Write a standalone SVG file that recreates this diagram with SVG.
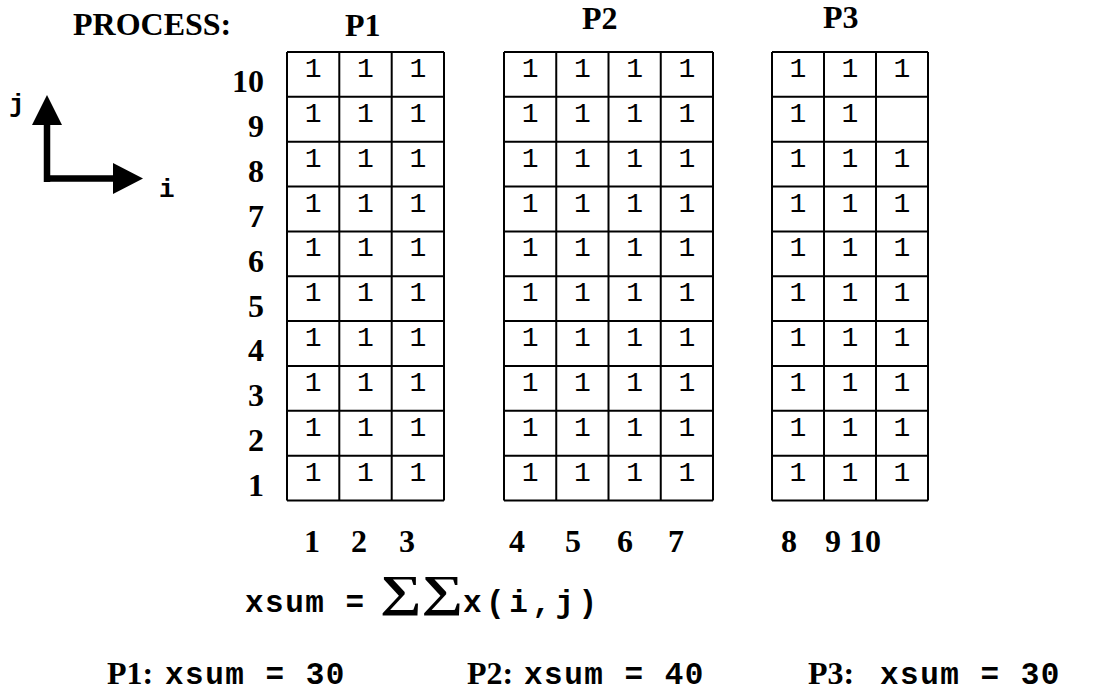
<svg xmlns="http://www.w3.org/2000/svg" width="1110" height="698" viewBox="0 0 1110 698">
<style>
.t{font-family:"Liberation Serif","Times New Roman",serif;font-weight:bold;font-size:32px;fill:#000}
.m{font-family:"Liberation Mono","Courier New",monospace;font-weight:bold;font-size:31px;fill:#000;letter-spacing:1.5px}
.c{font-family:"Liberation Mono","Courier New",monospace;font-size:28px;fill:#000;text-anchor:middle}
.g{fill:none;stroke:#000;stroke-width:2}
.rl{text-anchor:end}
.cl{text-anchor:middle}
</style>
<rect width="1110" height="698" fill="#fff"/>
<text class="t" x="73" y="35">PROCESS:</text>
<g id="axes">
<path d="M47,182 V122 M44,178.5 H116" stroke="#000" stroke-width="6.5" fill="none"/>
<polygon points="47,95 32,125 62,125" fill="#000"/>
<polygon points="143,178.5 113,163 113,194" fill="#000"/>
<text class="m" x="9" y="112" style="font-size:26px;letter-spacing:0">j</text>
<text class="m" x="159" y="197" style="font-size:26px;letter-spacing:0">i</text>
</g>
<g id="rowlabels">
<text class="t rl" x="264" y="92.3">10</text>
<text class="t rl" x="264" y="137.2">9</text>
<text class="t rl" x="264" y="182">8</text>
<text class="t rl" x="264" y="226.9">7</text>
<text class="t rl" x="264" y="271.7">6</text>
<text class="t rl" x="264" y="316.6">5</text>
<text class="t rl" x="264" y="361.4">4</text>
<text class="t rl" x="264" y="406.3">3</text>
<text class="t rl" x="264" y="451.1">2</text>
<text class="t rl" x="264" y="496">1</text>
</g>
<g id="P1">
<text class="t" x="345" y="36">P1</text>
<path class="g" d="M287,52H444M287,96.85H444M287,141.7H444M287,186.55H444M287,231.4H444M287,276.25H444M287,321.1H444M287,365.95H444M287,410.8H444M287,455.65H444M287,500.5H444M287,52V500.5M339.3,52V500.5M391.7,52V500.5M444,52V500.5"/>
<text class="c" x="313.2" y="77">1</text><text class="c" x="365.5" y="77">1</text><text class="c" x="417.8" y="77">1</text>
<text class="c" x="313.2" y="121.85">1</text><text class="c" x="365.5" y="121.85">1</text><text class="c" x="417.8" y="121.85">1</text>
<text class="c" x="313.2" y="166.7">1</text><text class="c" x="365.5" y="166.7">1</text><text class="c" x="417.8" y="166.7">1</text>
<text class="c" x="313.2" y="211.55">1</text><text class="c" x="365.5" y="211.55">1</text><text class="c" x="417.8" y="211.55">1</text>
<text class="c" x="313.2" y="256.4">1</text><text class="c" x="365.5" y="256.4">1</text><text class="c" x="417.8" y="256.4">1</text>
<text class="c" x="313.2" y="301.25">1</text><text class="c" x="365.5" y="301.25">1</text><text class="c" x="417.8" y="301.25">1</text>
<text class="c" x="313.2" y="346.1">1</text><text class="c" x="365.5" y="346.1">1</text><text class="c" x="417.8" y="346.1">1</text>
<text class="c" x="313.2" y="390.95">1</text><text class="c" x="365.5" y="390.95">1</text><text class="c" x="417.8" y="390.95">1</text>
<text class="c" x="313.2" y="435.8">1</text><text class="c" x="365.5" y="435.8">1</text><text class="c" x="417.8" y="435.8">1</text>
<text class="c" x="313.2" y="480.65">1</text><text class="c" x="365.5" y="480.65">1</text><text class="c" x="417.8" y="480.65">1</text>
<text class="t cl" x="312" y="552">1</text><text class="t cl" x="359" y="552">2</text><text class="t cl" x="407" y="552">3</text>
</g>
<g id="P2">
<text class="t" x="582" y="29">P2</text>
<path class="g" d="M504,52H713M504,96.85H713M504,141.7H713M504,186.55H713M504,231.4H713M504,276.25H713M504,321.1H713M504,365.95H713M504,410.8H713M504,455.65H713M504,500.5H713M504,52V500.5M556.25,52V500.5M608.5,52V500.5M660.75,52V500.5M713,52V500.5"/>
<text class="c" x="530.1" y="77">1</text><text class="c" x="582.4" y="77">1</text><text class="c" x="634.6" y="77">1</text><text class="c" x="686.9" y="77">1</text>
<text class="c" x="530.1" y="121.85">1</text><text class="c" x="582.4" y="121.85">1</text><text class="c" x="634.6" y="121.85">1</text><text class="c" x="686.9" y="121.85">1</text>
<text class="c" x="530.1" y="166.7">1</text><text class="c" x="582.4" y="166.7">1</text><text class="c" x="634.6" y="166.7">1</text><text class="c" x="686.9" y="166.7">1</text>
<text class="c" x="530.1" y="211.55">1</text><text class="c" x="582.4" y="211.55">1</text><text class="c" x="634.6" y="211.55">1</text><text class="c" x="686.9" y="211.55">1</text>
<text class="c" x="530.1" y="256.4">1</text><text class="c" x="582.4" y="256.4">1</text><text class="c" x="634.6" y="256.4">1</text><text class="c" x="686.9" y="256.4">1</text>
<text class="c" x="530.1" y="301.25">1</text><text class="c" x="582.4" y="301.25">1</text><text class="c" x="634.6" y="301.25">1</text><text class="c" x="686.9" y="301.25">1</text>
<text class="c" x="530.1" y="346.1">1</text><text class="c" x="582.4" y="346.1">1</text><text class="c" x="634.6" y="346.1">1</text><text class="c" x="686.9" y="346.1">1</text>
<text class="c" x="530.1" y="390.95">1</text><text class="c" x="582.4" y="390.95">1</text><text class="c" x="634.6" y="390.95">1</text><text class="c" x="686.9" y="390.95">1</text>
<text class="c" x="530.1" y="435.8">1</text><text class="c" x="582.4" y="435.8">1</text><text class="c" x="634.6" y="435.8">1</text><text class="c" x="686.9" y="435.8">1</text>
<text class="c" x="530.1" y="480.65">1</text><text class="c" x="582.4" y="480.65">1</text><text class="c" x="634.6" y="480.65">1</text><text class="c" x="686.9" y="480.65">1</text>
<text class="t cl" x="517" y="552">4</text><text class="t cl" x="573" y="552">5</text><text class="t cl" x="625" y="552">6</text><text class="t cl" x="676" y="552">7</text>
</g>
<g id="P3">
<text class="t" x="823" y="28">P3</text>
<path class="g" d="M772,52H928M772,96.85H928M772,141.7H928M772,186.55H928M772,231.4H928M772,276.25H928M772,321.1H928M772,365.95H928M772,410.8H928M772,455.65H928M772,500.5H928M772,52V500.5M824,52V500.5M876,52V500.5M928,52V500.5"/>
<text class="c" x="798" y="77">1</text><text class="c" x="850" y="77">1</text><text class="c" x="902" y="77">1</text>
<text class="c" x="798" y="121.85">1</text><text class="c" x="850" y="121.85">1</text>
<text class="c" x="798" y="166.7">1</text><text class="c" x="850" y="166.7">1</text><text class="c" x="902" y="166.7">1</text>
<text class="c" x="798" y="211.55">1</text><text class="c" x="850" y="211.55">1</text><text class="c" x="902" y="211.55">1</text>
<text class="c" x="798" y="256.4">1</text><text class="c" x="850" y="256.4">1</text><text class="c" x="902" y="256.4">1</text>
<text class="c" x="798" y="301.25">1</text><text class="c" x="850" y="301.25">1</text><text class="c" x="902" y="301.25">1</text>
<text class="c" x="798" y="346.1">1</text><text class="c" x="850" y="346.1">1</text><text class="c" x="902" y="346.1">1</text>
<text class="c" x="798" y="390.95">1</text><text class="c" x="850" y="390.95">1</text><text class="c" x="902" y="390.95">1</text>
<text class="c" x="798" y="435.8">1</text><text class="c" x="850" y="435.8">1</text><text class="c" x="902" y="435.8">1</text>
<text class="c" x="798" y="480.65">1</text><text class="c" x="850" y="480.65">1</text><text class="c" x="902" y="480.65">1</text>
<text class="t cl" x="789" y="552">8</text><text class="t cl" x="833" y="552">9</text><text class="t cl" x="865" y="552">10</text>
</g>
<g id="formula">
<text class="m" x="245" y="612">xsum =</text>
<text x="380" y="606" textLength="83" lengthAdjust="spacingAndGlyphs" style="font-family:'Liberation Serif','DejaVu Serif',serif;font-weight:bold;font-size:44px">∑∑</text>
<text class="m" x="463" y="612" style="letter-spacing:4.5px">x(i,j)</text>
</g>
<g id="results">
<text class="t" x="107" y="684">P1:</text>
<text class="m" x="165" y="684">xsum = 30</text>
<text class="t" x="467" y="684">P2:</text>
<text class="m" x="524" y="684">xsum = 40</text>
<text class="t" x="808" y="684">P3:</text>
<text class="m" x="880" y="684">xsum = 30</text>
</g>
</svg>
